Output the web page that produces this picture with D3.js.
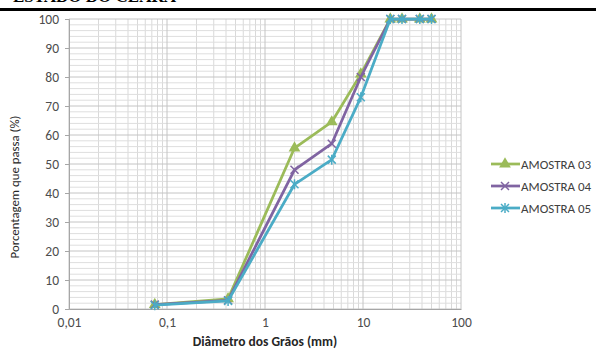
<!DOCTYPE html>
<html>
<head>
<meta charset="utf-8">
<script src="https://cdn.jsdelivr.net/npm/d3@7"></script>
<style>
  body { margin: 0; background: #fff; }
  text { font-family: Carlito, Calibri, "Open Sans", sans-serif; }
</style>
</head>
<body>
<svg id="chart" width="596" height="349"></svg>
<script>
// sieve sizes (mm)
const sizes = [0.075, 0.42, 2, 4.8, 9.5, 19, 25, 38, 50];
const amostra03 = [1.5, 3.5, 55.5, 64.5, 81, 100, 100, 100, 100];
const amostra04 = [1.5, 3, 48, 57, 80, 100, 100, 100, 100];
const amostra05 = [1.3, 2.8, 43, 51.5, 73, 100, 100, 100, 100];
const seriesNames = ['AMOSTRA 03', 'AMOSTRA 04', 'AMOSTRA 05'];
const seriesColors = ['#9bbb59', '#8064a2', '#4bacc6'];
const xTicks = [0.01, 0.1, 1, 10, 100];
const yTicks = [0, 10, 20, 30, 40, 50, 60, 70, 80, 90, 100];

const svg = d3.select('#chart');
const margin = {left: 69, right: 135, top: 19, bottom: 40};
const W = 596, H = 349;

// cut off header from the page above
svg.append('text')
    .attr('x', 176).attr('y', 2)
    .attr('text-anchor', 'end')
    .style('font-family', '"Liberation Serif", "Times New Roman", serif')
    .style('font-weight', 'bold')
    .style('font-size', '17px')
    .text('ESTADO DO CEARÁ');
svg.append('rect').attr('x', 0).attr('y', 8).attr('width', W).attr('height', 3).attr('fill', '#000');

const x = d3.scaleLog().domain([0.01, 100]).range([margin.left, W - margin.right]);
const y = d3.scaleLinear().domain([0, 100]).range([H - margin.bottom, margin.top]);

// grid
const grid = svg.append('g');
const minorX = [];
for (let e = -2; e < 2; e++) {
    for (let k = 2; k <= 9; k++) minorX.push(k * Math.pow(10, e));
}
grid.selectAll('.vminor').data(minorX).enter().append('line')
    .attr('x1', d => x(d)).attr('x2', d => x(d))
    .attr('y1', y(0)).attr('y2', y(100))
    .attr('stroke', '#d9d9d9').attr('stroke-width', 1);
const minorY = d3.range(0, 101, 2).filter(d => d % 10 !== 0);
grid.selectAll('.hminor').data(minorY).enter().append('line')
    .attr('x1', x(0.01)).attr('x2', x(100))
    .attr('y1', d => y(d)).attr('y2', d => y(d))
    .attr('stroke', '#dedede').attr('stroke-width', 1);
grid.selectAll('.hmajor').data(yTicks).enter().append('line')
    .attr('x1', x(0.01)).attr('x2', x(100))
    .attr('y1', d => y(d)).attr('y2', d => y(d))
    .attr('stroke', '#c4c4c4').attr('stroke-width', 1);
grid.selectAll('.vmajor').data(xTicks).enter().append('line')
    .attr('x1', d => x(d)).attr('x2', d => x(d))
    .attr('y1', y(0)).attr('y2', y(100))
    .attr('stroke', '#c4c4c4').attr('stroke-width', 1);

// axes
const yAxis = svg.append('g')
    .attr('transform', `translate(${x(0.01)},0)`)
    .call(d3.axisLeft(y).tickValues(yTicks).tickSize(4).tickPadding(6));
const xAxis = svg.append('g')
    .attr('transform', `translate(0,${y(0)})`)
    .call(d3.axisBottom(x).tickValues(xTicks).tickSize(0).tickPadding(8)
        .tickFormat(d => String(d).replace('.', ',')));
[xAxis, yAxis].forEach(a => {
    a.selectAll('path, line').attr('stroke', '#a6a6a6');
    a.selectAll('text').attr('fill', '#4d4d4d').style('font-size', '13.5px');
});

svg.append('text')
    .attr('x', 265).attr('y', 346)
    .attr('text-anchor', 'middle')
    .style('font-size', '13.5px').style('font-weight', 'bold')
    .attr('fill', '#262626')
    .text('Diâmetro dos Grãos (mm)');
svg.append('text')
    .attr('transform', 'translate(19,187) rotate(-90)')
    .attr('text-anchor', 'middle')
    .style('font-size', '12.8px')
    .attr('fill', '#262626')
    .text('Porcentagem que passa (%)');

// markers
function marker(g, i, c) {
    if (i === 0) {
        g.append('path').attr('d', d3.symbol(d3.symbolTriangle, 60)()).attr('fill', c);
    } else {
        g.append('path').attr('d', 'M-4,-4L4,4M-4,4L4,-4')
            .attr('stroke', c).attr('stroke-width', 1.5).attr('fill', 'none');
        if (i === 2) {
            g.append('path').attr('d', 'M0,-5V5')
                .attr('stroke', c).attr('stroke-width', 1.5);
        }
    }
}

const allSeries = [amostra03, amostra04, amostra05];
const line = d3.line().x((d, i) => x(sizes[i])).y(d => y(d));
allSeries.forEach((vals, s) => {
    svg.append('path').datum(vals)
        .attr('d', line)
        .attr('fill', 'none')
        .attr('stroke', seriesColors[s])
        .attr('stroke-width', 2.75)
        .attr('stroke-linejoin', 'round');
    vals.forEach((v, i) => {
        const g = svg.append('g').attr('transform', `translate(${x(sizes[i])},${y(v)})`);
        marker(g, s, seriesColors[s]);
    });
});

// legend
const legend = svg.append('g');
seriesNames.forEach((n, s) => {
    const ly = 164 + s * 22;
    legend.append('line')
        .attr('x1', 491).attr('x2', 520).attr('y1', ly).attr('y2', ly)
        .attr('stroke', seriesColors[s]).attr('stroke-width', 2.75);
    const g = legend.append('g').attr('transform', `translate(505,${ly})`);
    marker(g, s, seriesColors[s]);
    legend.append('text')
        .attr('x', 521).attr('y', ly + 4.5)
        .style('font-size', '13px')
        .attr('fill', '#404040')
        .text(n);
});
</script>
</body>
</html>
